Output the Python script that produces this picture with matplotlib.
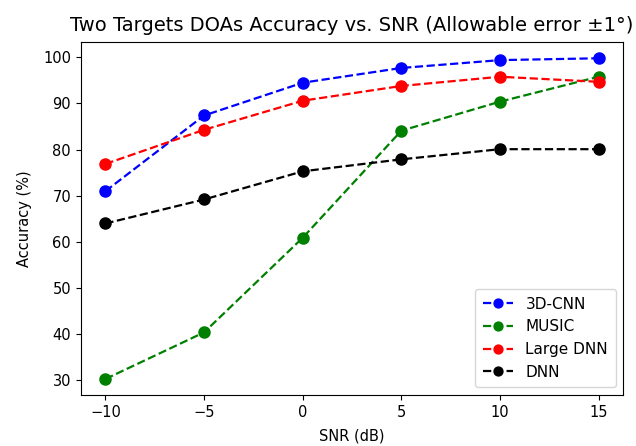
import numpy as np
import matplotlib.pyplot as plt

snr = [-10, -5, 0, 5, 10, 15]
cnn3d = [71.0, 87.4, 94.5, 97.7, 99.4, 99.8]
music = [30.3, 40.4, 60.9, 84.1, 90.4, 95.8]
large_dnn = [76.9, 84.3, 90.6, 93.8, 95.8, 94.7]
dnn = [64.0, 69.2, 75.3, 77.9, 80.1, 80.1]

fig = plt.figure(figsize=(6.36, 4.46), dpi=100)
ax = fig.add_axes([0.127, 0.1143, 0.853, 0.791])
ax.plot(snr, cnn3d, 'bo--', label='3D-CNN', markersize=8, linewidth=1.6)
ax.plot(snr, music, 'go--', label='MUSIC', markersize=8, linewidth=1.6)
ax.plot(snr, large_dnn, 'ro--', label='Large DNN', markersize=8, linewidth=1.6)
ax.plot(snr, dnn, 'ko--', label='DNN', markersize=8, linewidth=1.6)
ax.set_xticks(snr)
ax.set_yticks(np.arange(30, 101, 10))
ax.tick_params(labelsize=10.5)
ax.set_xlabel('SNR (dB)', fontsize=10.5, labelpad=6)
ax.set_ylabel('Accuracy (%)', fontsize=10.5, labelpad=8)
ax.set_title('Two Targets DOAs Accuracy vs. SNR (Allowable error \u00b11\u00b0)', fontsize=14, pad=8)
ax.legend(loc='lower right', fontsize=11, markerscale=0.8, handlelength=2.0,
          borderpad=0.5, labelspacing=0.5)
fig.savefig('out.png', dpi=100)
